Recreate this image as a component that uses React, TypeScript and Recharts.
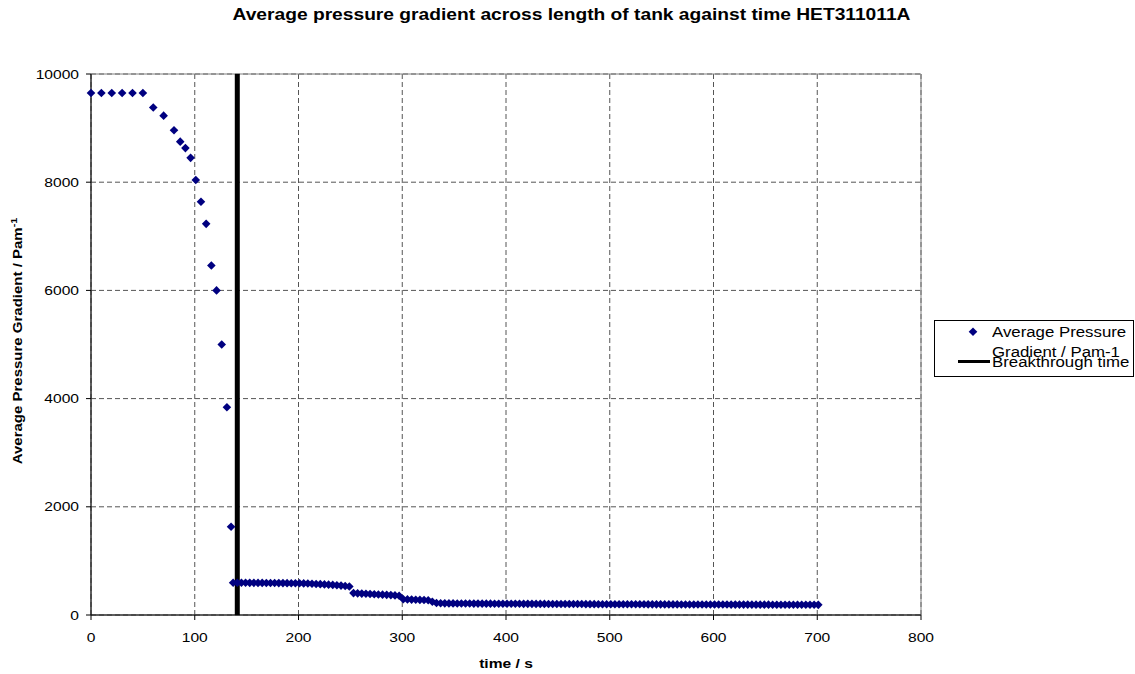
import React from 'react';
import { ScatterChart, Scatter, XAxis, YAxis, CartesianGrid, ReferenceLine, ReferenceArea } from 'recharts';

const earlyTimes = [0, 10, 20, 30, 40, 50, 60, 70, 80, 86, 91, 96, 101, 106, 111, 116, 121, 126, 131, 135];
const earlyValues = [9650, 9650, 9650, 9650, 9650, 9650, 9380, 9230, 8960, 8750, 8630, 8450, 8040, 7640, 7230, 6460, 6000, 5000, 3840, 1630];

const tailTimes = [
  137, 141, 145, 149, 153, 157, 161, 165, 169, 173,
  177, 181, 185, 189, 193, 197, 201, 205, 209, 213,
  217, 221, 225, 229, 233, 237, 241, 245, 249, 253,
  257, 261, 265, 269, 273, 277, 281, 285, 289, 293,
  297, 301, 305, 309, 313, 317, 321, 325, 329, 333,
  337, 341, 345, 349, 353, 357, 361, 365, 369, 373,
  377, 381, 385, 389, 393, 397, 401, 405, 409, 413,
  417, 421, 425, 429, 433, 437, 441, 445, 449, 453,
  457, 461, 465, 469, 473, 477, 481, 485, 489, 493,
  497, 501, 505, 509, 513, 517, 521, 525, 529, 533,
  537, 541, 545, 549, 553, 557, 561, 565, 569, 573,
  577, 581, 585, 589, 593, 597, 601, 605, 609, 613,
  617, 621, 625, 629, 633, 637, 641, 645, 649, 653,
  657, 661, 665, 669, 673, 677, 681, 685, 689, 693,
  697, 701,
];
const tailValues = [
  597, 596, 595, 595, 594, 594, 593, 593, 592, 592, 591, 590, 590, 589, 588, 587, 586,
  584, 581, 578, 574, 570, 566, 561, 556, 550, 543, 535, 527,
  405, 400, 396, 392, 388, 384, 380, 376, 372, 368, 362, 356,
  292, 288, 285, 282, 279, 276, 272,
  245, 222, 216,
  215, 214, 214, 213, 213, 212, 212, 211, 211, 210,
  210, 210, 209, 209, 208, 208, 208, 207, 207, 206,
  206, 206, 205, 205, 205, 204, 204, 204, 203, 203,
  203, 202, 202, 202, 201, 201, 201, 200, 200, 200,
  200, 199, 199, 199, 199, 198, 198, 198, 198, 197,
  197, 197, 197, 196, 196, 196, 196, 195, 195, 195,
  195, 194, 194, 194, 194, 193, 193, 193, 193, 192,
  192, 192, 192, 192, 191, 191, 191, 191, 191, 190,
  190, 190, 190, 190, 189, 189, 189, 189, 189, 189,
  188,
];

const breakthroughTime = 141;
const xTicks = [0, 100, 200, 300, 400, 500, 600, 700, 800];
const yTicks = [0, 2000, 4000, 6000, 8000, 10000];

const times = [...earlyTimes, ...tailTimes];
const values = [...earlyValues, ...tailValues];
const data = times.map((t, i) => ({ t, v: values[i] }));

const FONT = '"Liberation Sans", Arial, sans-serif';
const NAVY = '#000080';
const SX = 1.2;

const Diamond = (props: any) => {
  const { cx, cy } = props;
  const r = 4.3;
  return <polygon points={`${cx},${cy - r} ${cx + r},${cy} ${cx},${cy + r} ${cx - r},${cy}`} fill={NAVY} />;
};

const XTick = (props: any) => {
  const { x, y, payload } = props;
  return (
    <text transform={`translate(${x},${y}) scale(${SX},1)`} textAnchor="middle" dy="0.71em" fontSize={13} fill="#000" fontFamily={FONT}>
      {payload.value}
    </text>
  );
};

const YTick = (props: any) => {
  const { x, y, payload } = props;
  return (
    <text transform={`translate(${x},${y}) scale(${SX},1)`} textAnchor="end" dy="0.36em" fontSize={13} fill="#000" fontFamily={FONT}>
      {payload.value}
    </text>
  );
};

const textLine = (top: number, s: string) => (
  <div style={{ position: 'absolute', left: 57, top, lineHeight: '14px', whiteSpace: 'nowrap', transform: `scaleX(${SX})`, transformOrigin: 'left center' }}>{s}</div>
);

const LegendBox = () => (
  <div style={{ position: 'absolute', left: 934, top: 320, width: 200, height: 57, border: '1px solid #000', boxSizing: 'border-box', background: '#fff', fontFamily: FONT, fontSize: 14, color: '#000', overflow: 'visible' }}>
    <svg width={57} height={55} style={{ position: 'absolute', left: 0, top: 0 }}>
      <polygon points="38,6.5 42.3,10.8 38,15.1 33.7,10.8" fill={NAVY} />
      <line x1={23} y1={40.5} x2={55} y2={40.5} stroke="#000" strokeWidth={3} />
    </svg>
    {textLine(4, 'Average Pressure')}
    {textLine(24, 'Gradient / Pam-1')}
    {textLine(34, 'Breakthrough time')}
  </div>
);

export default function App() {
  return (
    <div style={{ position: 'absolute', left: 0, top: 0, width: 1135, height: 674, background: '#fff', overflow: 'hidden' }}>
      <div style={{ position: 'absolute', left: 0, top: 6, width: 1135, textAlign: 'center', fontFamily: FONT, fontWeight: 'bold', fontSize: 16, lineHeight: '18px' }}>
        <span style={{ display: 'inline-block', transform: `scaleX(${SX})`, position: 'relative', left: 4 }}>Average pressure gradient across length of tank against time HET311011A</span>
      </div>
      <ScatterChart width={1135} height={674} margin={{ top: 74, right: 214, bottom: 0, left: 31 }} style={{ fontFamily: FONT }}>
        <CartesianGrid stroke="#555" strokeDasharray="5 3" />
        <ReferenceArea x1={0} x2={800} y1={0} y2={10000} fill="none" stroke="#808080" strokeWidth={1} />
        <XAxis
          type="number"
          dataKey="t"
          domain={[0, 800]}
          ticks={xTicks}
          stroke="#000"
          tickSize={5}
          tickMargin={13}
          height={59}
          tick={<XTick />}
          label={{
            content: () => (
              <text transform={`translate(506,668) scale(${SX},1)`} textAnchor="middle" fontSize={13} fontWeight="bold" fill="#000" fontFamily={FONT}>
                time / s
              </text>
            ),
          }}
        />
        <YAxis
          type="number"
          dataKey="v"
          domain={[0, 10000]}
          ticks={yTicks}
          stroke="#000"
          tickSize={5}
          tickMargin={7}
          width={60}
          tick={<YTick />}
          label={{
            content: () => (
              <text transform={`translate(22,341) rotate(-90) scale(${SX},1)`} textAnchor="middle" fontSize={12.5} fontWeight="bold" fill="#000" fontFamily={FONT}>
                Average Pressure Gradient / Pam<tspan dy={-5} fontSize={9}>-1</tspan>
              </text>
            ),
          }}
        />
        <Scatter name="Average Pressure Gradient / Pam-1" data={data} shape={<Diamond />} isAnimationActive={false} />
        <ReferenceLine x={breakthroughTime} stroke="#000" strokeWidth={5} />
      </ScatterChart>
      <LegendBox />
    </div>
  );
}
